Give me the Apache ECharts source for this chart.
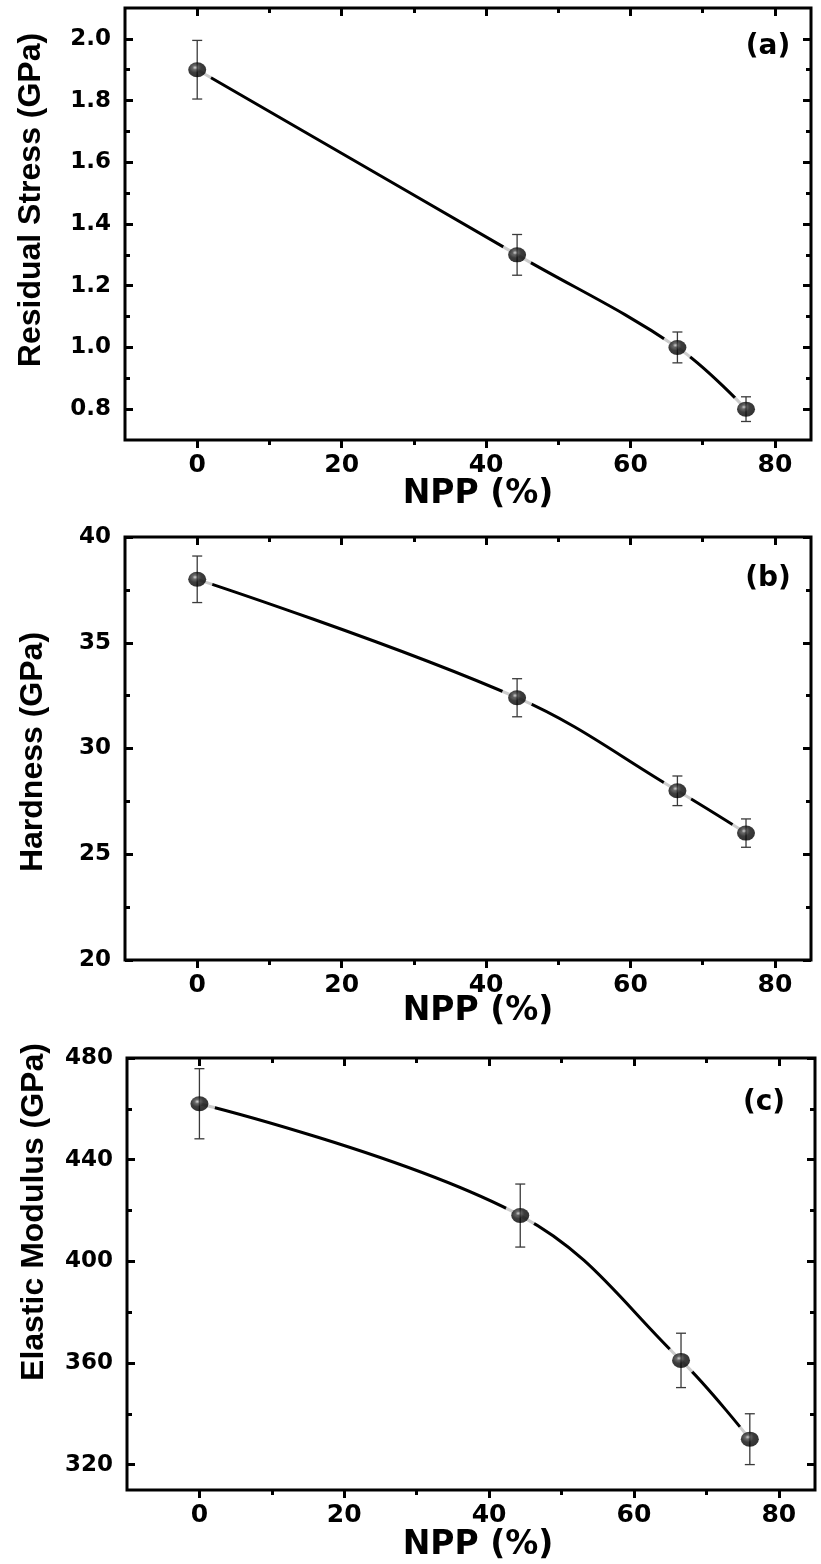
<!DOCTYPE html>
<html>
<head>
<meta charset="utf-8">
<script src="https://cdn.jsdelivr.net/npm/echarts@6/dist/echarts.min.js"></script>
<style>
  html, body { margin: 0; padding: 0; background: #fff; }
  #chart { width: 821px; height: 1564px; }
</style>
</head>
<body>
<div id="chart"></div>
<script>
// NPP content of each coating (%)
const nppValues = [0, 44.3, 66.5, 76];

// (a) residual stress, GPa
const stressValues = [1.90, 1.30, 1.00, 0.80];
const stressErrors = [0.095, 0.066, 0.05, 0.04];

// (b) hardness, GPa
const hardnessValues = [38.0, 32.4, 28.0, 26.0];
const hardnessErrors = [1.1, 0.9, 0.7, 0.67];

// (c) elastic modulus, GPa
const modulusValues = [462, 418, 361, 330];
const modulusErrors = [13.8, 12.4, 10.7, 10.0];

// tick positions
const xMajorTicks = [0, 20, 40, 60, 80];
const xMinorTicks = [10, 30, 50, 70];
const stressMajorTicks = [0.8, 1.0, 1.2, 1.4, 1.6, 1.8, 2.0];
const stressMinorTicks = [0.9, 1.1, 1.3, 1.5, 1.7, 1.9];
const hardnessMajorTicks = [20, 25, 30, 35, 40];
const hardnessMinorTicks = [22.5, 27.5, 32.5, 37.5];
const modulusMajorTicks = [320, 360, 400, 440, 480];
const modulusMinorTicks = [340, 380, 420, 460];

const xTitle = 'NPP (%)';
const panelDefs = [
  { tag: '(a)', yTitle: 'Residual Stress (GPa)', values: stressValues, errors: stressErrors,
    yMin: 0.7, yMax: 2.1, major: stressMajorTicks, minor: stressMinorTicks, fmt: v => v.toFixed(1),
    grid: { left: 125, top: 8, width: 686, height: 432 },
    tagPos: [768, 47], yTitlePos: [31, 200], xTitlePos: [478, 494] },
  { tag: '(b)', yTitle: 'Hardness (GPa)', values: hardnessValues, errors: hardnessErrors,
    yMin: 20, yMax: 40, major: hardnessMajorTicks, minor: hardnessMinorTicks, fmt: v => String(v),
    grid: { left: 125, top: 537, width: 686, height: 423 },
    tagPos: [768, 579], yTitlePos: [33, 752], xTitlePos: [478, 1011] },
  { tag: '(c)', yTitle: 'Elastic Modulus (GPa)', values: modulusValues, errors: modulusErrors,
    yMin: 310, yMax: 480, major: modulusMajorTicks, minor: modulusMinorTicks, fmt: v => String(v),
    grid: { left: 127, top: 1058, width: 688, height: 432 },
    tagPos: [764, 1103], yTitlePos: [34, 1212], xTitlePos: [478, 1545] }
];

const labelFont = { fontFamily: 'DejaVu Sans', fontWeight: 'bold', color: '#000' };
const tickLine = { color: '#000', width: 3 };

function xAxisSet(gridIndex, position, inside, withLabels, ticks, len) {
  return {
    type: 'value', gridIndex, position, min: -10, max: 85,
    axisLine: { show: false, onZero: false },
    splitLine: { show: false },
    axisTick: { show: true, inside, length: len, customValues: ticks, lineStyle: tickLine },
    axisLabel: withLabels
      ? Object.assign({ show: true, fontSize: 25, margin: 13, customValues: xMajorTicks }, labelFont)
      : { show: false }
  };
}

function yAxisSet(gridIndex, def, position, withLabels, ticks, len) {
  return {
    type: 'value', gridIndex, position, min: def.yMin, max: def.yMax,
    axisLine: { show: false, onZero: false },
    splitLine: { show: false },
    axisTick: { show: true, inside: true, length: len, customValues: ticks, lineStyle: tickLine },
    axisLabel: withLabels
      ? Object.assign({ show: true, fontSize: 23, margin: 14, customValues: def.major, formatter: def.fmt }, labelFont)
      : { show: false }
  };
}

// glossy black bead used for the data points
const beadFill = {
  type: 'radial', x: 0.38, y: 0.36, r: 0.62,
  colorStops: [
    { offset: 0, color: '#cfcfcf' },
    { offset: 0.22, color: '#444' },
    { offset: 0.55, color: '#0c0c0c' },
    { offset: 1, color: '#000' }
  ]
};

function errorBarItem(params, api) {
  const x = api.value(0);
  const top = api.coord([x, api.value(2)]);
  const bot = api.coord([x, api.value(1)]);
  const hw = 5;
  const st = { stroke: '#3a3a3a', lineWidth: 1.3 };
  return {
    type: 'group',
    children: [
      { type: 'line', shape: { x1: top[0], y1: top[1], x2: bot[0], y2: bot[1] }, style: st },
      { type: 'line', shape: { x1: top[0] - hw, y1: top[1], x2: top[0] + hw, y2: top[1] }, style: st },
      { type: 'line', shape: { x1: bot[0] - hw, y1: bot[1], x2: bot[0] + hw, y2: bot[1] }, style: st }
    ]
  };
}

const grids = [], xAxes = [], yAxes = [], series = [], texts = [];

panelDefs.forEach((def, p) => {
  grids.push(Object.assign({ show: true, borderColor: '#000', borderWidth: 3, backgroundColor: 'transparent',
    outerBoundsMode: 'none', containLabel: false }, def.grid));

  xAxes.push(xAxisSet(p, 'bottom', false, true, xMajorTicks, 8));
  xAxes.push(xAxisSet(p, 'bottom', false, false, xMinorTicks, 5));
  xAxes.push(xAxisSet(p, 'top', true, false, xMajorTicks, 8));
  xAxes.push(xAxisSet(p, 'top', true, false, xMinorTicks, 5));

  yAxes.push(yAxisSet(p, def, 'left', true, def.major, 8));
  yAxes.push(yAxisSet(p, def, 'left', false, def.minor, 5));
  yAxes.push(yAxisSet(p, def, 'right', false, def.major, 8));
  yAxes.push(yAxisSet(p, def, 'right', false, def.minor, 5));

  const ax = { xAxisIndex: 4 * p, yAxisIndex: 4 * p };
  const pts = nppValues.map((x, i) => [x, def.values[i]]);
  const bars = nppValues.map((x, i) => [x, def.values[i] - def.errors[i], def.values[i] + def.errors[i]]);

  series.push(Object.assign({
    type: 'line', data: pts, smooth: 0.38, symbol: 'none', silent: true, z: 2,
    lineStyle: { color: '#000', width: 3 }
  }, ax));
  // white halo leaves a small gap between the curve and each bead
  series.push(Object.assign({
    type: 'scatter', data: pts, symbol: 'circle', symbolSize: 32, silent: true, z: 3,
    itemStyle: { color: '#fff' }
  }, ax));
  series.push(Object.assign({
    type: 'custom', data: bars, renderItem: errorBarItem, silent: true, z: 4,
    encode: { x: 0, y: [1, 2] }
  }, ax));
  series.push(Object.assign({
    type: 'scatter', data: pts, symbol: 'circle', symbolSize: [18, 15], silent: true, z: 5,
    itemStyle: { color: beadFill }
  }, ax));

  texts.push({
    type: 'text', x: def.tagPos[0], y: def.tagPos[1],
    style: { text: def.tag, fill: '#000', font: 'bold 28px "DejaVu Sans"', textAlign: 'center', textVerticalAlign: 'middle' }
  });
  texts.push({
    type: 'text', x: def.xTitlePos[0], y: def.xTitlePos[1],
    style: { text: xTitle, fill: '#000', font: 'bold 33px "DejaVu Sans"', textAlign: 'center', textVerticalAlign: 'middle' }
  });
  texts.push({
    type: 'text', x: def.yTitlePos[0], y: def.yTitlePos[1], rotation: Math.PI / 2,
    style: { text: def.yTitle, fill: '#000', font: 'bold 32px "Liberation Sans"', textAlign: 'center', textVerticalAlign: 'middle' }
  });
});

const chart = echarts.init(document.getElementById('chart'), null, { renderer: 'canvas' });
chart.setOption({
  animation: false,
  backgroundColor: '#fff',
  grid: grids,
  xAxis: xAxes,
  yAxis: yAxes,
  series: series,
  graphic: texts
});
</script>
</body>
</html>
